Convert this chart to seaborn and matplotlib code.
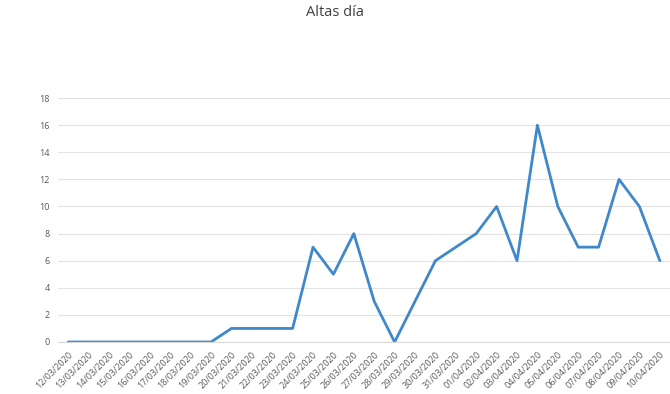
import matplotlib
matplotlib.use("Agg")
import matplotlib.pyplot as plt
import seaborn as sns
import pandas as pd

fechas = ["12/03/2020", "13/03/2020", "14/03/2020", "15/03/2020", "16/03/2020",
          "17/03/2020", "18/03/2020", "19/03/2020", "20/03/2020", "21/03/2020",
          "22/03/2020", "23/03/2020", "24/03/2020", "25/03/2020", "26/03/2020",
          "27/03/2020", "28/03/2020", "29/03/2020", "30/03/2020", "31/03/2020",
          "01/04/2020", "02/04/2020", "03/04/2020", "04/04/2020", "05/04/2020",
          "06/04/2020", "07/04/2020", "08/04/2020", "09/04/2020", "10/04/2020"]
altas = [0, 0, 0, 0, 0, 0, 0, 0, 1, 1,
         1, 1, 7, 5, 8, 3, 0, 3, 6, 7,
         8, 10, 6, 16, 10, 7, 7, 12, 10, 6]
yticks = [0, 2, 4, 6, 8, 10, 12, 14, 16, 18]

sns.set_style("white")
plt.rcParams['font.family'] = ['Open Sans', 'DejaVu Sans']

df = pd.DataFrame({"fecha": fechas, "altas": altas})

fig = plt.figure(figsize=(6.7, 3.94), dpi=100)
ax = fig.add_axes([0.0866, 0.132, 0.9134, 0.619])
sns.lineplot(data=df, x="fecha", y="altas", ax=ax, color="#3F88CA",
             linewidth=2.0, sort=False)

ax.set_xlim(-0.5, len(fechas) - 0.5)
ax.set_ylim(0, 18)
ax.set_yticks(yticks)
ax.set_yticklabels([str(v) for v in yticks], fontsize=6.5, color="#595959")
ax.set_xticks(range(len(fechas)))
ax.set_xticklabels(fechas, rotation=45, ha="right", rotation_mode="anchor",
                   fontsize=6.5, color="#595959")
ax.tick_params(axis="both", length=0, pad=6)
ax.grid(axis="y", color="#E3E3E3", linewidth=0.8)
ax.set_axisbelow(True)
for s in ["top", "right", "left"]:
    ax.spines[s].set_visible(False)
ax.spines["bottom"].set_color("#D9D9D9")
ax.spines["bottom"].set_linewidth(0.8)
ax.set_xlabel("")
ax.set_ylabel("")

fig.text(0.5, 0.968, "Altas día", ha="center", va="center", fontsize=10.5,
         color="#404040")

fig.savefig("out.png", dpi=100)
